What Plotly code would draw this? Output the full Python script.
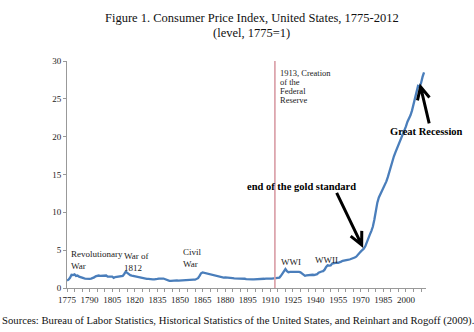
import math
import plotly.graph_objects as go

# ---- data (CPI level, 1775 = 1) ----
years = list(range(1775, 2013))
cpi_1775_1824 = [1.0, 1.1, 1.35, 1.75, 1.7, 1.8, 1.6, 1.65, 1.5, 1.4,
                 1.35, 1.3, 1.25, 1.2, 1.2, 1.2, 1.25, 1.3, 1.4, 1.55,
                 1.65, 1.65, 1.6, 1.6, 1.62, 1.6, 1.65, 1.5, 1.45, 1.5,
                 1.5, 1.35, 1.45, 1.5, 1.55, 1.5, 1.55, 1.6, 1.85, 2.15,
                 2.0, 1.8, 1.7, 1.65, 1.6, 1.5, 1.45, 1.45, 1.35, 1.3]
cpi_1825_1874 = [1.3, 1.3, 1.25, 1.2, 1.2, 1.15, 1.15, 1.15, 1.15, 1.15,
                 1.2, 1.25, 1.3, 1.25, 1.25, 1.15, 1.15, 1.05, 0.95, 0.95,
                 0.98, 1.0, 1.05, 1.0, 0.98, 1.0, 1.0, 1.0, 1.02, 1.08,
                 1.12, 1.12, 1.15, 1.08, 1.1, 1.1, 1.15, 1.3, 1.6, 1.95,
                 2.05, 2.0, 1.9, 1.85, 1.8, 1.75, 1.7, 1.65, 1.62, 1.58]
cpi_1875_1924 = [1.52, 1.48, 1.45, 1.4, 1.38, 1.4, 1.4, 1.38, 1.35, 1.32,
                 1.3, 1.28, 1.28, 1.28, 1.27, 1.25, 1.25, 1.25, 1.22, 1.18,
                 1.15, 1.15, 1.15, 1.15, 1.15, 1.15, 1.17, 1.18, 1.2, 1.2,
                 1.2, 1.22, 1.25, 1.22, 1.22, 1.25, 1.25, 1.27, 1.28, 1.29,
                 1.3, 1.38, 1.6, 1.88, 2.15, 2.5, 2.22, 2.08, 2.12, 2.12]
cpi_1925_1974 = [2.17, 2.2, 2.16, 2.12, 2.12, 2.07, 1.89, 1.7, 1.61, 1.66,
                 1.7, 1.72, 1.79, 1.75, 1.72, 1.74, 1.82, 2.02, 2.15, 2.18,
                 2.23, 2.42, 2.77, 2.99, 2.95, 2.99, 3.23, 3.29, 3.31, 3.34,
                 3.33, 3.37, 3.49, 3.59, 3.61, 3.67, 3.71, 3.75, 3.8, 3.85,
                 3.91, 4.02, 4.14, 4.32, 4.55, 4.81, 5.02, 5.19, 5.51, 6.12]
cpi_1975_2012 = [6.67, 7.06, 7.52, 8.09, 9.01, 10.22, 11.28, 11.97, 12.36, 12.89,
                 13.35, 13.6, 14.09, 14.68, 15.38, 16.22, 16.9, 17.41, 17.93, 18.39,
                 18.91, 19.47, 19.91, 20.22, 20.67, 21.36, 21.97, 22.32, 22.83, 23.44,
                 24.23, 25.01, 25.72, 26.71, 26.61, 27.06, 27.9, 28.49]
cpi = cpi_1775_1824 + cpi_1825_1874 + cpi_1875_1924 + cpi_1925_1974 + cpi_1975_2012

x_tick_years = list(range(1775, 2001, 15))
y_ticks = [0, 5, 10, 15, 20, 25, 30]
fed_year = 1913

# event labels: (text, year, value)
event_labels = [
    ("Revolutionary<br>War", 1776.5, 3.75),
    ("War of<br>1812", 1811.5, 3.5),
    ("Civil<br>War", 1850.5, 3.9),
    ("WWI", 1916.0, 3.45),
    ("WWII", 1938.0, 3.7),
]
fed_lines = ["1913, Creation", "of the", "Federal", "Reserve"]
fed_line_values = [28.45, 27.25, 26.05, 24.85]

SERIF = "Liberation Serif, Times New Roman, serif"
Y_MAX = 30

fig = go.Figure()
fig.add_trace(go.Scatter(x=years, y=cpi, mode="lines",
                         line=dict(color="#4a7ebb", width=2.3),
                         hoverinfo="skip", showlegend=False))

# Federal Reserve line
fig.add_shape(type="line", x0=fed_year, x1=fed_year, y0=0, y1=Y_MAX,
              xref="x", yref="y", line=dict(color="#dba2aa", width=1.7))

for text, xv, yv in event_labels:
    fig.add_annotation(x=xv, y=yv, text=text, showarrow=False,
                       xanchor="left", yanchor="middle", align="left",
                       font=dict(family=SERIF, size=9, color="#222"))

for text, yv in zip(fed_lines, fed_line_values):
    fig.add_annotation(x=fed_year + 2.2, y=yv, text=text, showarrow=False,
                       xanchor="left", yanchor="middle", align="left",
                       font=dict(family=SERIF, size=8.5, color="#222"))

fig.add_annotation(x=1930.5, y=13.4, text="<b>end of the gold standard</b>",
                   showarrow=False, xanchor="center", yanchor="middle",
                   font=dict(family=SERIF, size=10.5, color="#000"))
fig.add_annotation(x=1.0, xref="paper", y=20.7, text="<b>Great Recession</b>",
                   showarrow=False, xanchor="center", yanchor="middle",
                   font=dict(family=SERIF, size=10.5, color="#000"))

X0, X1 = 1775, 2013.3


def arrow(tip_x, tip_y, dx, dy, head=14, spread=26):
    """Open V arrow; dx, dy = tail offset from tip in pixels (positive up)."""
    L = math.hypot(dx, dy)
    ux, uy = dx / L, dy / L
    pts = []
    for s in (spread, -spread):
        a = math.radians(s)
        rx = ux * math.cos(a) - uy * math.sin(a)
        ry = ux * math.sin(a) + uy * math.cos(a)
        pts.append((rx * head, ry * head))
    path = (f"M {dx},{dy} L 0,0 M {pts[0][0]:.1f},{pts[0][1]:.1f} L 0,0 "
            f"L {pts[1][0]:.1f},{pts[1][1]:.1f}")
    fig.add_shape(type="path", xref="paper", yref="paper",
                  xsizemode="pixel", ysizemode="pixel",
                  xanchor=(tip_x - X0) / (X1 - X0), yanchor=tip_y / Y_MAX, path=path,
                  line=dict(color="#000", width=3))


arrow(1970.6, 5.7, -25, 52)
arrow(2009.7, 26.6, 8.6, -36.6)

# titles / footer in paper coords (plot area: top 61px, bottom 288px)
fig.add_annotation(x=0.515, y=1.19, xref="paper", yref="paper", showarrow=False,
                   xanchor="center", yanchor="middle",
                   text="Figure 1. Consumer Price Index, United States, 1775-2012",
                   font=dict(family=SERIF, size=12.5, color="#111"))
fig.add_annotation(x=0.515, y=1.123, xref="paper", yref="paper", showarrow=False,
                   xanchor="center", yanchor="middle",
                   text="(level, 1775=1)",
                   font=dict(family=SERIF, size=12.5, color="#111"))
fig.add_annotation(x=0.475, y=-0.142, xref="paper", yref="paper", yanchor="middle",
                   xanchor="center", showarrow=False,
                   text="Sources: Bureau of Labor Statistics, Historical Statistics of the United States, and Reinhart and Rogoff (2009).",
                   font=dict(family=SERIF, size=10.7, color="#111"))

fig.update_layout(
    width=474, height=332,
    margin=dict(l=67, r=48, t=61, b=44),
    paper_bgcolor="white", plot_bgcolor="white",
    xaxis=dict(range=[X0, X1], tickmode="array", tickvals=x_tick_years,
               ticks="outside", ticklen=3, tickcolor="#999", showline=True,
               linecolor="#999", linewidth=1, showgrid=False, zeroline=False,
               tickfont=dict(family=SERIF, size=9, color="#222"),
               minor=dict(dtick=5, tick0=1775, ticks="outside", ticklen=3, tickcolor="#999")),
    yaxis=dict(range=[0, Y_MAX], tickvals=y_ticks, ticks="outside", ticklen=3,
               tickcolor="#999", showline=True, linecolor="#999", linewidth=1,
               showgrid=False, zeroline=False,
               tickfont=dict(family=SERIF, size=9, color="#222")),
)

fig.write_html("out.html")
